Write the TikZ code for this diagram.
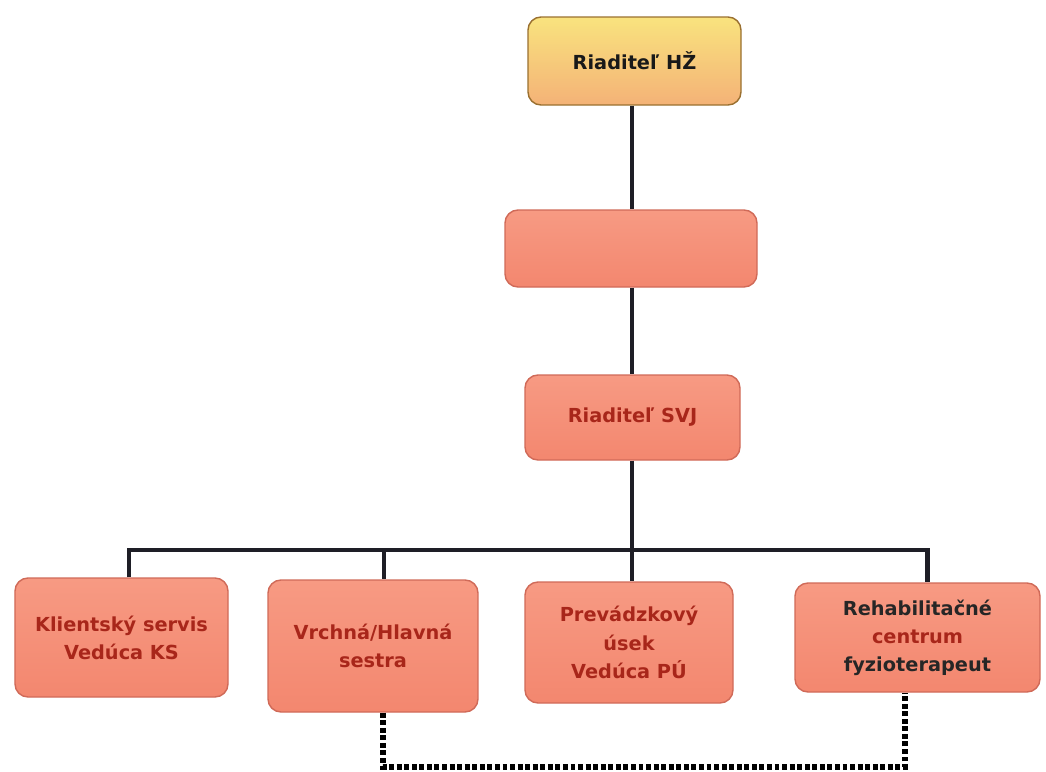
\documentclass[tikz,border=0pt]{standalone}
\usepackage{fontspec}
\setmainfont{DejaVu Sans}
\usetikzlibrary{positioning}
\definecolor{salmon}{HTML}{F3876F}
\definecolor{salmontop}{HTML}{F79A83}
\definecolor{salmonline}{HTML}{D06A58}
\definecolor{goldtop}{HTML}{F9E37E}
\definecolor{goldbottom}{HTML}{F4B277}
\definecolor{goldline}{HTML}{9A7030}
\definecolor{textred}{HTML}{A8261A}
\definecolor{linedark}{HTML}{1E1E26}

\begin{document}
\begin{tikzpicture}[
	box/.style={draw=salmonline, line width=0.8pt, rounded corners=0.26cm, top color=salmontop, bottom color=salmon, align=center, font=\fontsize{11}{16}\selectfont\bfseries, text=textred},
	conn/.style={draw=linedark, line width=2.5pt},
	dots/.style={draw=black, line width=3pt, dash pattern=on 2.8pt off 1.5pt}
]
	\useasboundingbox (0,0) rectangle (20.92,-15.44);
	\node (hz) [box, top color=goldtop, bottom color=goldbottom, draw=goldline, text=black!90, minimum width=4.26cm, minimum height=1.76cm] at (12.69,-1.22) {Riaditeľ HŽ};
	\node (stred) [box, minimum width=5.04cm, minimum height=1.54cm] at (12.62,-4.97) {};
	\node (svj) [box, minimum width=4.3cm, minimum height=1.7cm] at (12.65,-8.35) {Riaditeľ SVJ};
	\node (ks) [box, minimum width=4.26cm, minimum height=2.38cm] at (2.43,-12.75) {Klientský servis\\Vedúca KS};
	\node (sestra) [box, minimum width=4.2cm, minimum height=2.64cm] at (7.46,-12.92) {Vrchná/Hlavná\\sestra};
	\node (pu) [box, minimum width=4.16cm, minimum height=2.42cm] at (12.58,-12.85) {Prevádzkový\\úsek\\Vedúca PÚ};
	\node (rehab) [box, minimum width=4.9cm, minimum height=2.18cm] at (18.35,-12.75) {\textcolor{black!85}{Rehabilitačné}\\centrum\\\textcolor{black!85}{fyzioterapeut}};
	\coordinate (b1) at (2.58,-11);
	\coordinate (b2) at (7.68,-11);
	\coordinate (b3) at (12.64,-11);
	\coordinate (b4) at (18.55,-11);
	\coordinate (d1) at (7.66,-15.34);
	\coordinate (d2) at (18.1,-15.34);
	\path[conn]
		(hz.south -| b3) -- (stred.north -| b3)
		(stred.south -| b3) -- (svj.north -| b3)
		(svj.south -| b3) -- (pu.north -| b3)
		(b1 |- ks.north) -- (b1) -- (b4) -- (b4 |- rehab.north)
		(b2) -- (b2 |- sestra.north)
	;
	\path[dots] (sestra.south -| d1) -- (d1) -- (d2) -- (d2 |- rehab.south);
\end{tikzpicture}
\end{document}
